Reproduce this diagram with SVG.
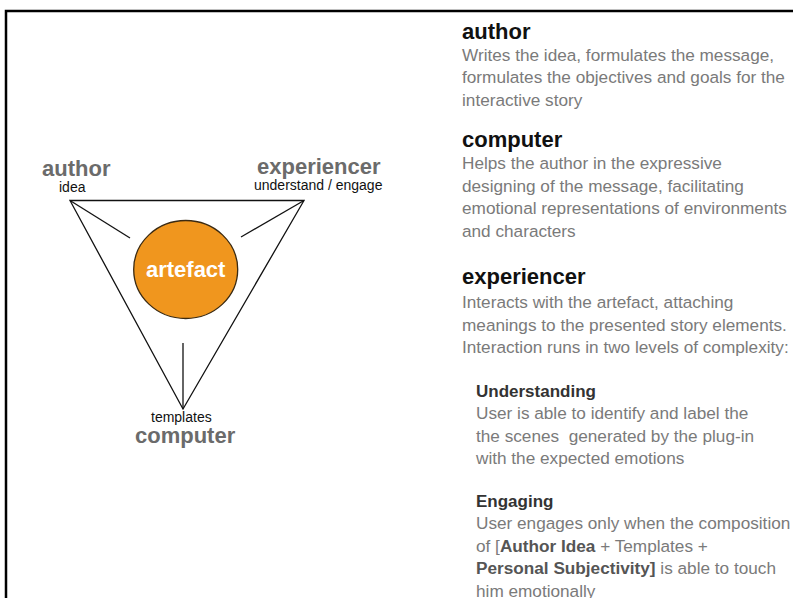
<svg xmlns="http://www.w3.org/2000/svg" width="793" height="598" viewBox="0 0 793 598">
<style>
text{font-family:"Liberation Sans",Arial,sans-serif}
.lbl{font-size:22px;font-weight:bold;fill:#6b6b6b}
.sub{font-size:14px;fill:#111}
.h{font-size:22px;font-weight:bold;fill:#111}
.b{font-size:17.2px;fill:#7a7a7a}
.h2{font-size:17px;font-weight:bold;fill:#333}
.bd{font-weight:bold;fill:#555}
.ln{stroke:#111;stroke-width:1.3;fill:none}
</style>
<rect x="0" y="0" width="793" height="598" fill="#fff"/>
<path d="M6,598 V11 H793" fill="none" stroke="#000" stroke-width="2.5"/>
<g id="connectors">
<polygon class="ln" points="70,200.5 304,200.5 183,409"/>
<line class="ln" x1="70" y1="200.5" x2="130" y2="238"/>
<line class="ln" x1="304" y1="200.5" x2="241" y2="237"/>
<line class="ln" x1="183" y1="343" x2="183" y2="409"/>
</g>
<g id="artefact">
<ellipse cx="185.7" cy="269.5" rx="52" ry="49" fill="#F0961E" stroke="#3a2a12" stroke-width="1.3"/>
<text x="185.7" y="277" text-anchor="middle" font-size="22" font-weight="bold" fill="#fff">artefact</text>
</g>
<g id="author">
<text class="lbl" x="42" y="176">author</text>
<text class="sub" x="59" y="192">idea</text>
</g>
<g id="experiencer">
<text class="lbl" x="257" y="173.5">experiencer</text>
<text class="sub" x="254" y="189.5" font-size="14.7">understand / engage</text>
</g>
<g id="computer">
<text class="sub" x="151" y="422">templates</text>
<text class="lbl" x="135" y="443">computer</text>
</g>
<g id="descriptions">
<text class="h" x="462" y="38.5">author</text>
<text class="b" x="462" y="60.5">Writes the idea, formulates the message,</text>
<text class="b" x="462" y="83">formulates the objectives and goals for the</text>
<text class="b" x="462" y="105.5">interactive story</text>
<text class="h" x="462" y="147">computer</text>
<text class="b" x="462" y="169">Helps the author in the expressive</text>
<text class="b" x="462" y="191.5">designing of the message, facilitating</text>
<text class="b" x="462" y="214">emotional representations of environments</text>
<text class="b" x="462" y="236.5">and characters</text>
<text class="h" x="462" y="284">experiencer</text>
<text class="b" x="462" y="308">Interacts with the artefact, attaching</text>
<text class="b" x="462" y="330.5">meanings to the presented story elements.</text>
<text class="b" x="462" y="353">Interaction runs in two levels of complexity:</text>
<text class="h2" x="476" y="396.5">Understanding</text>
<text class="b" x="476" y="419">User is able to identify and label the</text>
<text class="b" x="476" y="441.5" xml:space="preserve">the scenes  generated by the plug-in</text>
<text class="b" x="476" y="464">with the expected emotions</text>
<text class="h2" x="476" y="506.5">Engaging</text>
<text class="b" x="476" y="529">User engages only when the composition</text>
<text class="b" x="476" y="551.5">of [<tspan class="bd">Author Idea</tspan> + Templates +</text>
<text class="b" x="476" y="574"><tspan class="bd">Personal Subjectivity]</tspan> is able to touch</text>
<text class="b" x="476" y="596.5">him emotionally</text>
</g>
</svg>
